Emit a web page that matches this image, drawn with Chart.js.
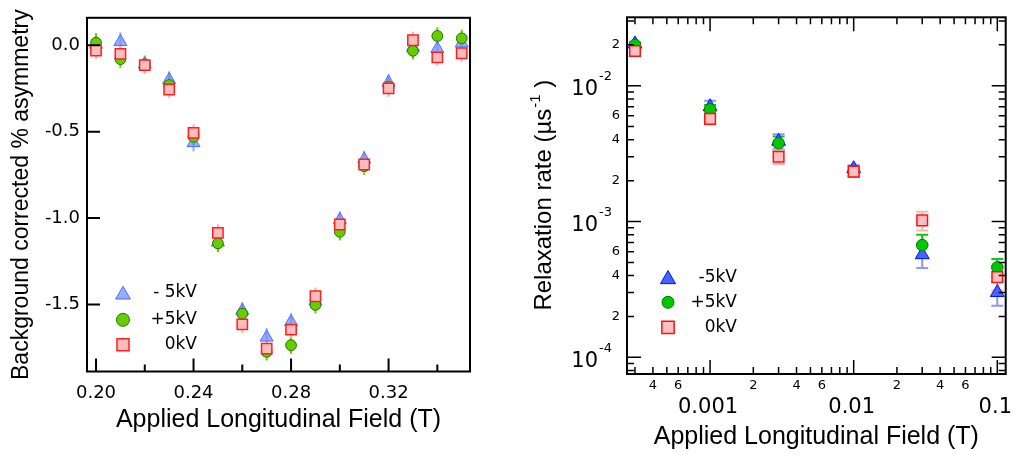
<!DOCTYPE html>
<html><head><meta charset="utf-8">
<script src="https://cdn.jsdelivr.net/npm/chart.js@4/dist/chart.umd.min.js"></script>
<style>
html,body{margin:0;padding:0;background:#fff;}
#wrap{position:relative;width:1019px;height:457px;overflow:hidden;}
</style></head><body>
<div id="wrap">
<canvas id="c1" width="500" height="457" style="position:absolute;left:0;top:0"></canvas>
<canvas id="c2" width="519" height="457" style="position:absolute;left:500px;top:0"></canvas>
</div>
<script>
// ---------- LEFT PANEL DATA ----------
const fieldLeft = [0.20,0.21,0.22,0.23,0.24,0.25,0.26,0.27,0.28,0.29,0.30,0.31,0.32,0.33,0.34,0.35];
const asymMinus5 = [0.005,0.02,-0.11,-0.20,-0.565,-1.14,-1.535,-1.69,-1.60,-1.48,-1.01,-0.66,-0.215,-0.013,-0.02,0.012];
const asymPlus5  = [0.015,-0.08,-0.11,-0.23,-0.53,-1.146,-1.553,-1.774,-1.735,-1.502,-1.079,-0.70,-0.24,-0.032,0.054,0.04];
const asymZero   = [-0.03,-0.05,-0.115,-0.256,-0.507,-1.085,-1.615,-1.755,-1.645,-1.452,-1.037,-0.69,-0.249,0.029,-0.07,-0.046];
const errMinus5L = [0.05,0.055,0.05,0.05,0.05,0.05,0.05,0.055,0.05,0.05,0.05,0.05,0.05,0.05,0.05,0.05];
const errPlus5L  = [0.055,0.05,0.05,0.05,0.05,0.05,0.05,0.05,0.05,0.05,0.05,0.05,0.05,0.05,0.05,0.05];
const errZeroL   = [0.05,0.05,0.05,0.05,0.05,0.05,0.05,0.05,0.05,0.05,0.05,0.05,0.05,0.05,0.05,0.05];
const leftXTicks = [0.20,0.22,0.24,0.26,0.28,0.30,0.32,0.34];
const leftXLabelled = [0.20,0.24,0.28,0.32];
const leftYTicks = [0.0,-0.5,-1.0,-1.5];
const legendLeftLabels = ['- 5kV','+5kV','0kV'];

// ---------- RIGHT PANEL DATA ----------
const fieldRight = [3e-4,1e-3,3e-3,1e-2,3e-2,1e-1];
const rateMinus5 = [2.03e-2,7.0e-3,3.9e-3,2.45e-3,5.7e-4,3.0e-4];
const ratePlus5  = [2.0e-2,6.7e-3,3.77e-3,2.35e-3,6.7e-4,4.6e-4];
const rateZero   = [1.8e-2,5.7e-3,3.0e-3,2.33e-3,1.02e-3,3.9e-4];
const errMinus5R = [6e-4,7.5e-4,5e-4,1.5e-4,1.15e-4,0.6e-4];
const errPlus5R  = [5e-4,5e-4,4.5e-4,2e-4,1.3e-4,0.7e-4];
const errZeroR   = [6e-4,5e-4,3.5e-4,1.5e-4,1.6e-4,0.8e-4];
const rightXDecades = [1e-4,1e-3,1e-2,1e-1];
const rightXDecadeLabels = ['0.0001','0.001','0.01','0.1'];
const rightYDecades = [1e-5,1e-4,1e-3,1e-2];
const rightYDecadeExps = ['-5','-4','-3','-2'];
const minorMantissas = [2,3,4,5,6,7,8,9];
const labelledMantissas = [2,4,6];
const legendRightLabels = ['-5kV','+5kV','0kV'];

// ---------- helpers ----------
function mantissa(v){ const e=Math.floor(Math.log10(v)+1e-9); return Math.round(v/Math.pow(10,e)); }
function logTicks(min,max,decades){
  const out=[];
  decades.forEach(d=>{ [1].concat(minorMantissas).forEach(m=>{ const v=m*d; if(v>=min*0.9999 && v<=max*1.0001) out.push({value:v, major:m===1}); }); });
  return out;
}
function drawMarker(ctx, style, x, y, r, fill, stroke, lw){
  ctx.save(); ctx.beginPath();
  if(style==='triangle'){
    ctx.moveTo(x, y-r);
    ctx.lineTo(x+r*Math.sin(2*Math.PI/3), y-r*Math.cos(2*Math.PI/3));
    ctx.lineTo(x+r*Math.sin(4*Math.PI/3), y-r*Math.cos(4*Math.PI/3));
    ctx.closePath();
  } else if(style==='circle'){ ctx.arc(x,y,r,0,2*Math.PI); }
  else { const s=r*Math.SQRT1_2; ctx.rect(x-s,y-s,2*s,2*s); }
  ctx.fillStyle=fill; ctx.fill(); ctx.lineWidth=lw; ctx.strokeStyle=stroke; ctx.stroke(); ctx.restore();
}
const errorBarsPlugin = {
  id:'errbars',
  beforeDatasetsDraw(chart){
    const ctx=chart.ctx, xs=chart.scales.x, ys=chart.scales.y;
    const ds = chart.data.datasets.map((d,i)=>({d,i})).sort((a,b)=>(b.d.order||0)-(a.d.order||0));
    ds.forEach(({d})=>{
      if(!d.errors) return;
      ctx.save(); ctx.strokeStyle=d.errorColor; ctx.lineWidth=d.errorWidth||2;
      d.data.forEach((p,j)=>{
        const x=xs.getPixelForValue(p.x);
        const y1=ys.getPixelForValue(p.y-d.errors[j]);
        const y2=ys.getPixelForValue(p.y+d.errors[j]);
        ctx.beginPath(); ctx.moveTo(x,y1); ctx.lineTo(x,y2);
        if(d.errorCap){ const c=d.errorCap; ctx.moveTo(x-c,y1); ctx.lineTo(x+c,y1); ctx.moveTo(x-c,y2); ctx.lineTo(x+c,y2); }
        ctx.stroke();
      });
      ctx.restore();
    });
  }
};

// ---------- LEFT CHART ----------
const L = {
  tri:{fill:'rgba(110,140,255,0.72)', stroke:'#4f6cff', err:'rgba(120,150,255,0.75)'},
  cir:{fill:'#66cc00', stroke:'#1e7a00', err:'#66cc00'},
  sq:{fill:'#ffbcbc', stroke:'#ff1f1f', err:'#ffb0b0'}
};
const leftDecor = {
  id:'leftDecor',
  afterDatasetsDraw(chart){
    const ctx=chart.ctx; const {left,top,right,bottom}=chart.chartArea;
    const xs=chart.scales.x, ys=chart.scales.y;
    ctx.save();
    ctx.strokeStyle='#000'; ctx.lineWidth=2;
    ctx.strokeRect(left,top,right-left,bottom-top);
    ctx.beginPath();
    xs.ticks.forEach(t=>{
      const px=xs.getPixelForValue(t.value);
      const maj=leftXLabelled.some(l=>Math.abs(l-t.value)<1e-9);
      ctx.moveTo(px,bottom); ctx.lineTo(px,bottom-(maj?13:7));
    });
    ys.ticks.forEach(t=>{
      const py=ys.getPixelForValue(t.value);
      ctx.moveTo(left,py); ctx.lineTo(left+13,py);
    });
    ctx.stroke();
    // legend
    const styles=[['triangle',8.5,L.tri],['circle',6.5,L.cir],['rect',8.5,L.sq]];
    const ys0=[275,302,327];
    ctx.font='17px "DejaVu Sans"'; ctx.fillStyle='#000'; ctx.textAlign='right'; ctx.textBaseline='middle';
    styles.forEach((s,i)=>{
      const my=top+ys0[i];
      drawMarker(ctx,s[0],left+36,my+(s[0]==='triangle'?2:0),s[1],s[2].fill,s[2].stroke,s[0]==='rect'?1.5:1);
      ctx.fillText(legendLeftLabels[i],left+110,my);
    });
    ctx.restore();
  }
};
new Chart(document.getElementById('c1'),{
  type:'scatter',
  data:{datasets:[
    {label:legendLeftLabels[0], data:fieldLeft.map((x,i)=>({x,y:asymMinus5[i]})), errors:errMinus5L, errorColor:L.tri.err,
     pointStyle:'triangle', pointRadius:7.5, backgroundColor:L.tri.fill, borderColor:L.tri.stroke, borderWidth:1, order:3},
    {label:legendLeftLabels[1], data:fieldLeft.map((x,i)=>({x,y:asymPlus5[i]})), errors:errPlus5L, errorColor:L.cir.err,
     pointStyle:'circle', pointRadius:5.4, backgroundColor:L.cir.fill, borderColor:L.cir.stroke, borderWidth:1, order:2},
    {label:legendLeftLabels[2], data:fieldLeft.map((x,i)=>({x,y:asymZero[i]})), errors:errZeroL, errorColor:L.sq.err,
     pointStyle:'rect', pointRadius:7.3, backgroundColor:L.sq.fill, borderColor:L.sq.stroke, borderWidth:1.5, order:1}
  ]},
  options:{
    responsive:false, animation:false,
    layout:{padding:{top:15,right:30,left:0,bottom:0}},
    plugins:{legend:{display:false}, tooltip:{enabled:false}},
    scales:{
      x:{type:'linear', min:0.1963, max:0.3534,
         grid:{display:false, drawTicks:false}, border:{display:false},
         afterBuildTicks:s=>{ s.ticks=leftXTicks.map(v=>({value:v})); },
         afterFit:s=>{ s.height=85.5; },
         ticks:{autoSkip:false, maxRotation:0, padding:11, color:'#000', font:{family:'DejaVu Sans', size:18},
                callback:v=>leftXLabelled.some(l=>Math.abs(l-v)<1e-9)?v.toFixed(2):''},
         title:{display:true, text:'Applied Longitudinal Field (T)', color:'#000',
                font:{family:'Liberation Sans', size:25}, padding:{top:0,bottom:22}}
      },
      y:{type:'linear', min:-1.8875, max:0.159,
         grid:{display:false, drawTicks:false}, border:{display:false},
         afterBuildTicks:s=>{ s.ticks=leftYTicks.map(v=>({value:v})); },
         afterFit:s=>{ s.width=87; },
         ticks:{autoSkip:false, padding:7, color:'#000', font:{family:'DejaVu Sans', size:18},
                callback:v=>v.toFixed(1)},
         title:{display:true, text:'Background corrected % asymmetry', color:'#000',
                font:{family:'Liberation Sans', size:23}, padding:{top:8,bottom:0}}
      }
    }
  },
  plugins:[errorBarsPlugin, leftDecor]
});

// ---------- RIGHT CHART ----------
const R = {
  tri:{fill:'#4463ff', stroke:'#0010ff', err:'rgba(110,125,255,0.8)'},
  cir:{fill:'#00c800', stroke:'#007a00', err:'#10c810'},
  sq:{fill:'#ffc0c0', stroke:'#ff1010', err:'#ffb4b4'}
};
const rightDecor = {
  id:'rightDecor',
  afterDatasetsDraw(chart){
    const ctx=chart.ctx; const {left,top,right,bottom}=chart.chartArea;
    const xs=chart.scales.x, ys=chart.scales.y;
    ctx.save();
    ctx.strokeStyle='#000'; ctx.lineWidth=2;
    ctx.strokeRect(left,top,right-left,bottom-top);
    ctx.lineWidth=1.5;
    ctx.beginPath();
    xs.ticks.forEach(t=>{
      const px=xs.getPixelForValue(t.value);
      const len=mantissa(t.value)===1?14:7;
      ctx.moveTo(px,bottom); ctx.lineTo(px,bottom-len);
      ctx.moveTo(px,top); ctx.lineTo(px,top+len);
    });
    ys.ticks.forEach(t=>{
      const py=ys.getPixelForValue(t.value);
      const len=mantissa(t.value)===1?14:7;
      ctx.moveTo(left,py); ctx.lineTo(left+len,py);
      ctx.moveTo(right,py); ctx.lineTo(right-len,py);
    });
    ctx.stroke();
    // decade labels x
    ctx.fillStyle='#000';
    ctx.font='21px "DejaVu Sans"'; ctx.textAlign='center'; ctx.textBaseline='middle';
    rightXDecades.forEach((d,i)=>{
      if(d<xs.min||d>xs.max*1.0001) return;
      ctx.fillText(rightXDecadeLabels[i], xs.getPixelForValue(d)-2, bottom+34);
    });
    // decade labels y with superscript
    rightYDecades.forEach((d,i)=>{
      if(d<ys.min||d>ys.max) return;
      const py=ys.getPixelForValue(d);
      ctx.font='21px "DejaVu Sans"'; ctx.textAlign='right'; ctx.textBaseline='middle';
      ctx.fillText('10', left-29, py+4);
      ctx.font='13px "DejaVu Sans"'; ctx.textAlign='left';
      ctx.fillText(rightYDecadeExps[i], left-28, py-9);
    });
    // y title with superscript
    ctx.save();
    const cy=(top+bottom)/2;
    ctx.translate(43, cy); ctx.rotate(-Math.PI/2);
    const mainFont='24px "Liberation Sans"', supFont='15px "Liberation Sans"';
    const p1='Relaxation rate (\u00b5s', p2='-1', p3=' )';
    ctx.font=mainFont; const w1=ctx.measureText(p1).width, w3=ctx.measureText(p3).width;
    ctx.font=supFont; const w2=ctx.measureText(p2).width;
    let x0=-(w1+w2+w3)/2;
    ctx.textAlign='left'; ctx.textBaseline='alphabetic';
    ctx.font=mainFont; ctx.fillText(p1,x0,8); x0+=w1;
    ctx.font=supFont; ctx.fillText(p2,x0+1,-3); x0+=w2+1;
    ctx.font=mainFont; ctx.fillText(p3,x0,8);
    ctx.restore();
    // legend
    const styles=[['triangle',8.7,R.tri],['circle',6,R.cir],['rect',8.7,R.sq]];
    const ys0=[260,285,310];
    ctx.font='17px "DejaVu Sans"'; ctx.fillStyle='#000'; ctx.textAlign='right'; ctx.textBaseline='middle';
    styles.forEach((s,i)=>{
      const my=top+ys0[i];
      drawMarker(ctx,s[0],left+41,my+(s[0]==='triangle'?2:0),s[1],s[2].fill,s[2].stroke,s[0]==='rect'?1.5:1);
      ctx.fillText(legendRightLabels[i],left+110,my);
    });
    ctx.restore();
  }
};
new Chart(document.getElementById('c2'),{
  type:'scatter',
  data:{datasets:[
    {label:legendRightLabels[0], data:fieldRight.map((x,i)=>({x,y:rateMinus5[i]})), errors:errMinus5R, errorColor:R.tri.err, errorCap:6,
     pointStyle:'triangle', pointRadius:8, backgroundColor:R.tri.fill, borderColor:R.tri.stroke, borderWidth:1, order:3},
    {label:legendRightLabels[1], data:fieldRight.map((x,i)=>({x,y:ratePlus5[i]})), errors:errPlus5R, errorColor:R.cir.err, errorCap:6,
     pointStyle:'circle', pointRadius:5.8, backgroundColor:R.cir.fill, borderColor:R.cir.stroke, borderWidth:1, order:2},
    {label:legendRightLabels[2], data:fieldRight.map((x,i)=>({x,y:rateZero[i]})), errors:errZeroR, errorColor:R.sq.err, errorCap:6,
     pointStyle:'rect', pointRadius:7.5, backgroundColor:R.sq.fill, borderColor:R.sq.stroke, borderWidth:1.5, order:1}
  ]},
  options:{
    responsive:false, animation:false,
    layout:{padding:{top:17.3,right:13.3,left:0,bottom:0}},
    plugins:{legend:{display:false}, tooltip:{enabled:false}},
    scales:{
      x:{type:'logarithmic', min:2.64e-4, max:0.1144,
         grid:{display:false, drawTicks:false}, border:{display:false},
         afterBuildTicks:s=>{ s.ticks=logTicks(s.min,s.max,rightXDecades); },
         afterFit:s=>{ s.height=83; },
         ticks:{autoSkip:false, maxRotation:0, padding:4, color:'#000', font:{family:'DejaVu Sans', size:13},
                callback:v=>{ const m=mantissa(v); return (m!==1 && labelledMantissas.includes(m))?String(m):''; }},
         title:{display:true, text:'Applied Longitudinal Field (T)', color:'#000',
                font:{family:'Liberation Sans', size:25}, padding:{top:0,bottom:5}}
      },
      y:{type:'logarithmic', min:7.54e-5, max:3.19e-2,
         grid:{display:false, drawTicks:false}, border:{display:false},
         afterBuildTicks:s=>{ s.ticks=logTicks(s.min,s.max,rightYDecades); },
         afterFit:s=>{ s.width=127; },
         ticks:{autoSkip:false, padding:7, color:'#000', font:{family:'DejaVu Sans', size:13},
                callback:v=>{ const m=mantissa(v); return (m!==1 && labelledMantissas.includes(m))?String(m):''; }},
         title:{display:false}
      }
    }
  },
  plugins:[errorBarsPlugin, rightDecor]
});
</script>
</body></html>
